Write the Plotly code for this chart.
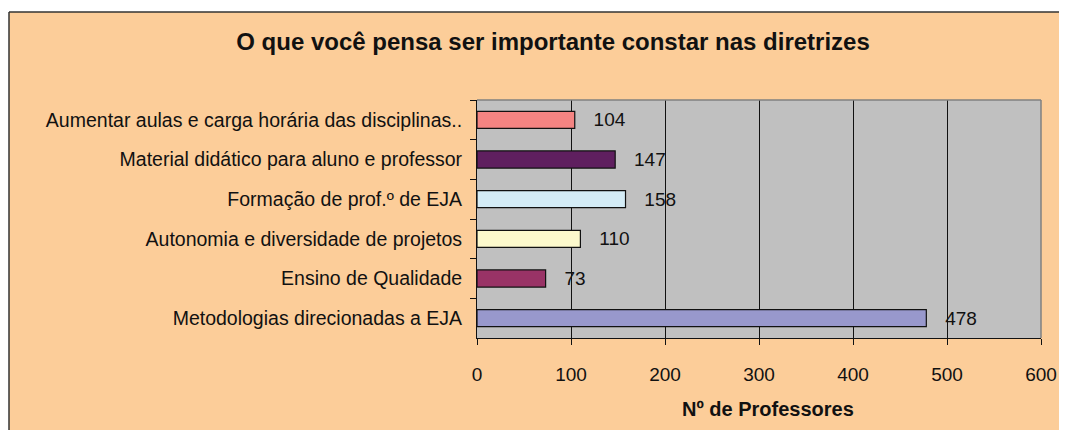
import plotly.graph_objects as go

categorias = [
    "Aumentar aulas e carga horária das disciplinas..",
    "Material didático para aluno e professor",
    "Formação de prof.º de EJA",
    "Autonomia e diversidade de projetos",
    "Ensino de Qualidade",
    "Metodologias direcionadas a EJA",
]
professores = [104, 147, 158, 110, 73, 478]
cores = ["#F48482", "#5F1F5F", "#D4ECF6", "#FCF9CC", "#993366", "#9898CC"]

# page body has an 8px margin, so the figure is drawn 8px in from the corner
OFF = 8
W, H = 1067 - OFF, 430 - OFF
L, R, T, B = 477 - OFF, 1041 - OFF, 100 - OFF, 338 - OFF   # plot area in px


def px(x):
    return (x - OFF - L) / (R - L)


def py(y):
    return (B - (y - OFF)) / (B - T)


fig = go.Figure()
fig.add_trace(go.Bar(
    y=categorias, x=professores, orientation="h",
    marker=dict(color=cores, line=dict(color="#111111", width=1.2)),
    text=professores, texttemplate="   %{text}", textposition="outside",
    textfont=dict(family="Liberation Sans, Arial", size=19, color="#111111"),
    constraintext="none", cliponaxis=False, width=0.43,
))

fig.update_layout(
    width=W, height=H,
    margin=dict(l=L, r=W - R, t=T, b=H - B, autoexpand=False),
    paper_bgcolor="#FCCD99", plot_bgcolor="#C0C0C0",
    font=dict(family="Liberation Sans, Arial", size=19, color="#111111"),
    title=dict(text="<b>O que você pensa ser importante constar nas diretrizes</b>",
               x=(553 - OFF) / W, xanchor="center", y=1 - (42 - OFF) / H, yanchor="middle",
               font=dict(size=24, color="#111111")),
    showlegend=False,
)
fig.update_xaxes(range=[0, 600], dtick=100, showgrid=True, gridcolor="#111111", gridwidth=1,
                 showline=True, linecolor="#111111", linewidth=1, automargin=False,
                 ticks="outside", ticklen=6, tickcolor="#111111",
                 tickfont=dict(size=19), ticklabelstandoff=13, zeroline=False)
fig.update_yaxes(autorange="reversed", showline=True, linecolor="#111111", linewidth=1,
                 ticks="outside", ticklen=6, tickcolor="#111111", tickson="boundaries",
                 tickfont=dict(size=19.5), ticklabelstandoff=10, automargin=False)

fig.add_annotation(text="<b>Nº de Professores</b>", xref="paper", yref="paper",
                   x=px(768), y=py(409), xanchor="center", yanchor="middle",
                   showarrow=False, font=dict(size=20))

# white margin and chart frame
fig.add_shape(type="rect", xref="paper", yref="paper", x0=px(8), x1=px(9), y0=py(OFF + H), y1=py(OFF),
              fillcolor="white", line_width=0, layer="below")
fig.add_shape(type="rect", xref="paper", yref="paper", x0=px(8), x1=px(OFF + W), y0=py(12), y1=py(OFF),
              fillcolor="white", line_width=0, layer="below")
fig.add_shape(type="line", xref="paper", yref="paper", x0=px(9), x1=px(9), y0=py(12), y1=py(OFF + H),
              line=dict(color="#333333", width=1.5))
fig.add_shape(type="line", xref="paper", yref="paper", x0=px(9), x1=px(OFF + W), y0=py(12), y1=py(12),
              line=dict(color="#333333", width=1.5))
# grey plot border top/right
fig.add_shape(type="line", xref="paper", yref="paper", x0=0, x1=1, y0=1, y1=1,
              line=dict(color="#808080", width=1.5))
fig.add_shape(type="line", xref="paper", yref="paper", x0=1, x1=1, y0=0, y1=1,
              line=dict(color="#808080", width=1.5))

fig.write_html("out.html")
